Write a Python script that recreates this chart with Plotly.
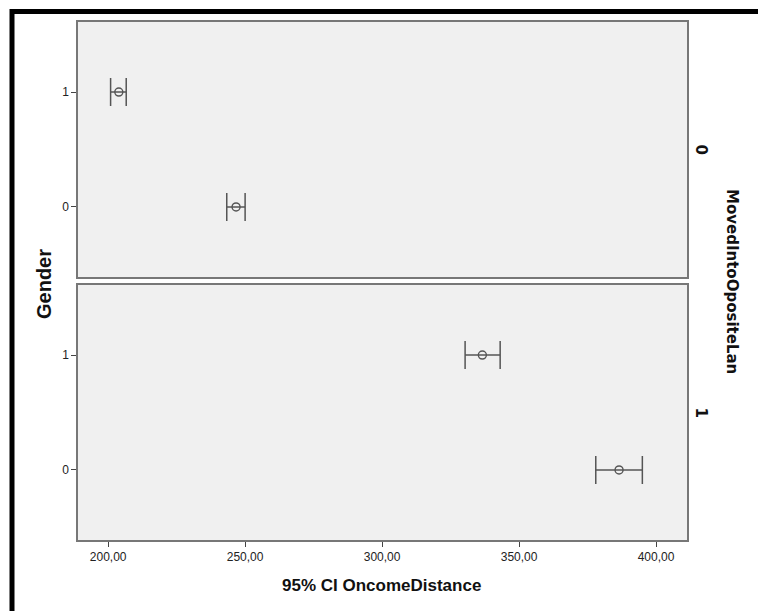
import plotly.graph_objects as go

# Data
gender = [1, 0]
panel_labels = ["0", "1"]
mean_p0 = [203.9, 246.7]
low_p0 = [200.9, 243.3]
high_p0 = [206.6, 250.0]
mean_p1 = [336.6, 386.5]
low_p1 = [330.3, 378.0]
high_p1 = [343.1, 395.0]
x_ticks = [200, 250, 300, 350, 400]
x_tick_labels = ["200,00", "250,00", "300,00", "350,00", "400,00"]

W, H = 758, 611
ml, mr, mt, mb = 78, 71, 22, 71
pw, ph = W - ml - mr, H - mt - mb

line_col = "#555555"
font = "Liberation Sans, Arial, sans-serif"
font_r = "DejaVu Sans, Verdana, sans-serif"

fig = go.Figure()

def add_series(mean, low, high, yaxis):
    fig.add_trace(go.Scatter(
        x=mean, y=gender, xaxis="x" if yaxis == "y" else "x2", yaxis=yaxis,
        mode="markers",
        marker=dict(symbol="circle-open", size=8, color=line_col, line=dict(width=1.4, color=line_col)),
        error_x=dict(type="data", symmetric=False,
                     array=[h - m for h, m in zip(high, mean)],
                     arrayminus=[m - l for m, l in zip(mean, low)],
                     color=line_col, thickness=1.5, width=14),
        showlegend=False, hoverinfo="x+y"))

add_series(mean_p0, low_p0, high_p0, "y")
add_series(mean_p1, low_p1, high_p1, "y2")

gap = 8 / ph
xrange = [189.0, 411.3]
yrange = [-0.61, 1.61]
axis_common = dict(showgrid=False, zeroline=False, showline=True, linecolor="#777777",
                   linewidth=1.5, mirror=True, ticks="outside", ticklen=5, tickwidth=1,
                   tickcolor="#444444", tickfont=dict(family=font, size=12, color="#222222"))

fig.update_layout(
    width=W, height=H,
    margin=dict(l=ml, r=mr, t=mt, b=mb),
    paper_bgcolor="white", plot_bgcolor="#F0F0F0",
    xaxis=dict(range=xrange, anchor="y2", domain=[0, 1], tickvals=x_ticks, ticktext=x_tick_labels,
               **axis_common),
    xaxis2=dict(range=xrange, anchor="y", matches="x", overlaying="x", showticklabels=False,
                ticks="", showgrid=False, zeroline=False, showline=True, linecolor="#777777",
                linewidth=1.5, mirror=True),
    yaxis=dict(range=yrange, domain=[0.5 + gap / 2, 1], anchor="x", tickvals=[0, 1], ticktext=["0", "1"],
               **axis_common),
    yaxis2=dict(range=yrange, domain=[0, 0.5 - gap / 2], anchor="x", tickvals=[0, 1], ticktext=["0", "1"],
                **axis_common),
)

def px_x(p):
    return (p - ml) / pw
def px_y(p):
    return (H - mb - p) / ph

# X axis title
fig.add_annotation(text="<b>95% CI OncomeDistance</b>", xref="paper", yref="paper",
                   x=px_x(381), y=px_y(585), xanchor="center", yanchor="middle", showarrow=False,
                   font=dict(family=font, size=17, color="#111111"))
# Y axis title "Gender" spanning both panels
fig.add_annotation(text="<b>Gender</b>", xref="paper", yref="paper",
                   x=px_x(44), y=px_y(284), xanchor="center", yanchor="middle",
                   textangle=-90, showarrow=False,
                   font=dict(family=font, size=20, color="#111111"))
# Right panel labels
y_top_center = (0.5 + gap / 2 + 1) / 2
y_bot_center = (0.5 - gap / 2) / 2
for lab, yc in zip(panel_labels, [y_top_center, y_bot_center]):
    fig.add_annotation(text="<b>" + lab + "</b>", xref="paper", yref="paper",
                       x=px_x(701), y=yc, xanchor="center", yanchor="middle",
                       textangle=90, showarrow=False,
                       font=dict(family=font_r, size=15, color="#111111"))
fig.add_annotation(text="<b>MovedIntoOpositeLan</b>", xref="paper", yref="paper",
                   x=px_x(732), y=px_y(281), xanchor="center", yanchor="middle",
                   textangle=90, showarrow=False,
                   font=dict(family=font_r, size=15, color="#111111"))

# Outer black frame (clipped at right and bottom like the reference)
fig.add_shape(type="rect", xref="paper", yref="paper",
              x0=px_x(12), x1=px_x(790), y0=px_y(640), y1=px_y(11.5),
              line=dict(color="black", width=5), fillcolor="rgba(0,0,0,0)", layer="above")

fig.write_html("out.html")
